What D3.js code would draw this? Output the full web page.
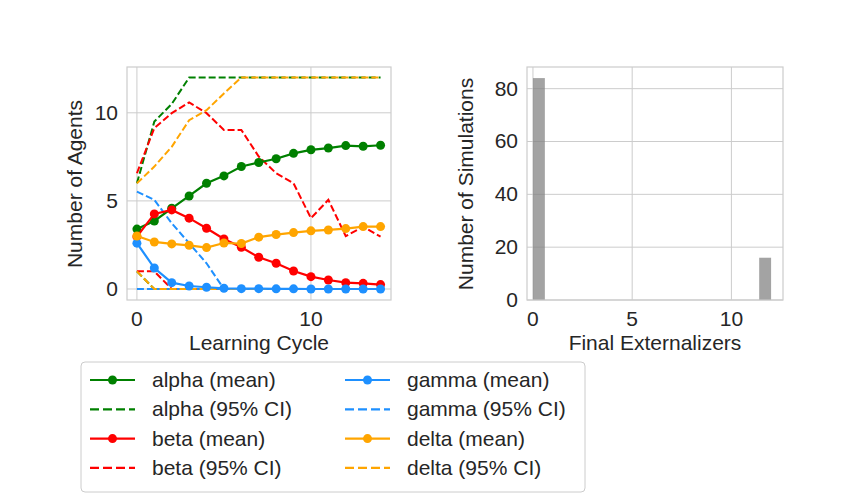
<!DOCTYPE html>
<html><head><meta charset="utf-8">
<script src="https://cdn.jsdelivr.net/npm/d3@7"></script>
<style>body{margin:0;background:#fff}text{font-family:"Liberation Sans",Arial,sans-serif;fill:#262626}</style>
</head><body><svg id="c" width="850" height="500"></svg>
<script>
const cycles = d3.range(15);
const alphaMean = [3.4,3.86,4.58,5.28,6.0,6.42,6.95,7.18,7.39,7.7,7.9,8.0,8.14,8.1,8.16];
const betaMean  = [2.97,4.26,4.49,4.02,3.45,2.84,2.37,1.8,1.46,1.02,0.7,0.51,0.36,0.32,0.25];
const gammaMean = [2.6,1.19,0.36,0.17,0.1,0.04,0.02,0.02,0.01,0.01,0,0,0,0,0];
const deltaMean = [3.01,2.67,2.56,2.48,2.35,2.61,2.58,2.94,3.09,3.2,3.3,3.35,3.43,3.54,3.54];
const alphaHi = [6,9.5,10.5,12,12,12,12,12,12,12,12,12,12,12,12];
const alphaLo = [1,0,0,0,0,0,0,0,0,0,0,0,0,0,0];
const betaHi  = [6.57,9.13,9.98,10.59,9.98,9.03,9.03,7.52,6.57,6.0,4.02,5.06,3.0,3.54,2.97];
const betaLo  = [1,1,0,0,0,0,0,0,0,0,0,0,0,0,0];
const gammaHi = [5.53,5.06,3.73,2.6,1.46,0,0,0,0,0,0,0,0,0,0];
const gammaLo = [0,0,0,0,0,0,0,0,0,0,0,0,0,0,0];
const deltaHi = [6,6.95,8.07,9.58,10.15,11.1,12,12,12,12,12,12,12,12,12];
const deltaLo = [1,0,0,0,0,0,0,0,0,0,0,0,0,0,0];
const histCounts = [84,0,0,0,0,0,0,0,0,0,0,0,0,0,0,0,0,0,0,16];
const binWidth = 0.6;

const series = [
  {name:'alpha', color:'green', mean:alphaMean, hi:alphaHi, lo:alphaLo},
  {name:'beta', color:'red', mean:betaMean, hi:betaHi, lo:betaLo},
  {name:'gamma', color:'#1e90ff', mean:gammaMean, hi:gammaHi, lo:gammaLo},
  {name:'delta', color:'orange', mean:deltaMean, hi:deltaHi, lo:deltaLo}
];

const svg = d3.select('#c');
const grid = '#cccccc';
const fs = 21;

function frame(g, x, y, xt, yt) {
  const [x0,x1] = x.range(), [y0,y1] = y.range();
  g.selectAll('.vg').data(xt).join('line').attr('x1',d=>x(d)).attr('x2',d=>x(d)).attr('y1',y0).attr('y2',y1).attr('stroke',grid);
  g.selectAll('.hg').data(yt).join('line').attr('class','hg').attr('x1',x0).attr('x2',x1).attr('y1',d=>y(d)).attr('y2',d=>y(d)).attr('stroke',grid);
  g.selectAll('.xl').data(xt).join('text').attr('class','xl').attr('x',d=>x(d)).attr('y',y0+26).attr('text-anchor','middle').attr('font-size',fs).text(d=>d);
  g.selectAll('.yl').data(yt).join('text').attr('class','yl').attr('x',x0-9).attr('y',d=>y(d)+7).attr('text-anchor','end').attr('font-size',fs).text(d=>d);
}
function border(g, x, y) {
  const [x0,x1] = x.range(), [y0,y1] = y.range();
  g.append('rect').attr('x',x0).attr('y',y1).attr('width',x1-x0).attr('height',y0-y1).attr('fill','none').attr('stroke',grid).attr('stroke-width',1.2);
}

// left panel
const xL = d3.scaleLinear().domain([-0.57,14.6]).range([127,391]);
const yL = d3.scaleLinear().domain([-0.625,12.6]).range([300,67]);
const gL = svg.append('g');
frame(gL, xL, yL, [0,10], [0,5,10]);
border(gL, xL, yL);
const line = d3.line().x((d,i)=>xL(i)).y(d=>yL(d));
series.forEach(s => {
  [s.hi, s.lo].forEach(arr => gL.append('path').attr('d',line(arr)).attr('fill','none').attr('stroke',s.color).attr('stroke-width',2).attr('stroke-dasharray','7,3'));
});
series.forEach(s => {
  gL.append('path').attr('d',line(s.mean)).attr('fill','none').attr('stroke',s.color).attr('stroke-width',2.2);
  gL.selectAll(null).data(s.mean).join('circle').attr('cx',(d,i)=>xL(i)).attr('cy',d=>yL(d)).attr('r',4.5).attr('fill',s.color);
});
gL.append('text').attr('x',259).attr('y',350).attr('text-anchor','middle').attr('font-size',fs).text('Learning Cycle');
gL.append('text').attr('transform','translate(82,184) rotate(-90)').attr('text-anchor','middle').attr('font-size',fs).text('Number of Agents');

// right panel
const xR = d3.scaleLinear().domain([-0.3,12.6]).range([527,783]);
const yR = d3.scaleLinear().domain([0,88.2]).range([300,67]);
const gR = svg.append('g');
frame(gR, xR, yR, [0,5,10], [0,20,40,60,80]);
gR.selectAll('rect.bar').data(histCounts).join('rect').attr('class','bar')
  .attr('x',(d,i)=>xR(i*binWidth)).attr('width',xR(binWidth)-xR(0))
  .attr('y',d=>yR(d)).attr('height',d=>yR(0)-yR(d)).attr('fill','#808080').attr('fill-opacity',0.72);
border(gR, xR, yR);
gR.append('text').attr('x',655).attr('y',350).attr('text-anchor','middle').attr('font-size',fs).text('Final Externalizers');
gR.append('text').attr('transform','translate(473,184) rotate(-90)').attr('text-anchor','middle').attr('font-size',fs).text('Number of Simulations');

// legend
const lg = svg.append('g');
lg.append('rect').attr('x',81).attr('y',362).attr('width',504).attr('height',130).attr('rx',4).attr('fill','#fff').attr('stroke','#cccccc');
const items = [];
series.forEach(s => { items.push({s, dash:false}); items.push({s, dash:true}); });
items.forEach((it,k) => {
  const col = Math.floor(k/4), row = k%4;
  const lx = col ? 345 : 90, ly = 380 + row*29.3;
  lg.append('line').attr('x1',lx).attr('x2',lx+45).attr('y1',ly).attr('y2',ly).attr('stroke',it.s.color).attr('stroke-width',2.2).attr('stroke-dasharray',it.dash?'9,4':null);
  if (!it.dash) lg.append('circle').attr('cx',lx+22.5).attr('cy',ly).attr('r',4.5).attr('fill',it.s.color);
  lg.append('text').attr('x',lx+62).attr('y',ly+7).attr('font-size',fs).text(it.s.name + (it.dash?' (95% CI)':' (mean)'));
});
</script></body></html>
